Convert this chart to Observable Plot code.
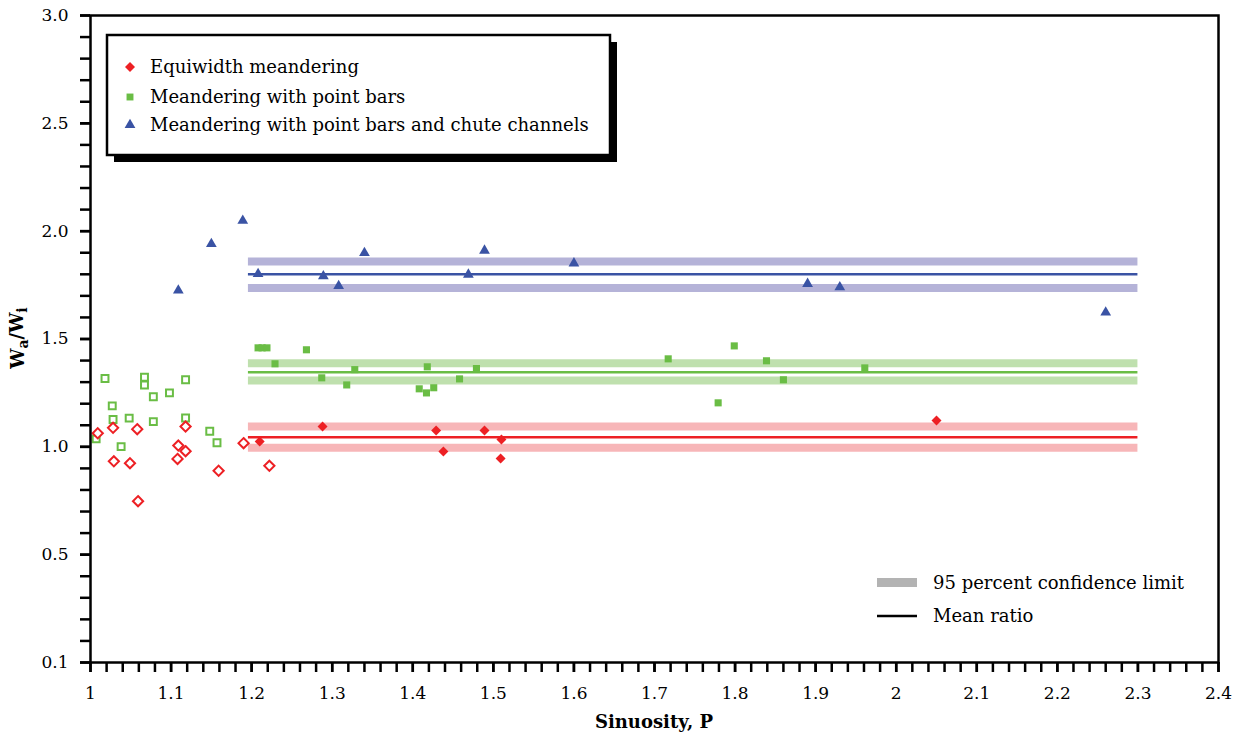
<!DOCTYPE html>
<html><head><meta charset="utf-8">
<script src="https://cdn.jsdelivr.net/npm/d3@7"></script>
<script src="https://cdn.jsdelivr.net/npm/@observablehq/plot@0.6"></script>
<style>
body{margin:0;background:#fff;}
#chart{position:relative;width:1238px;height:738px;}
</style></head><body><div id="chart"></div>
<script>
// ---------- data ----------
const seriesNames = ["Equiwidth meandering", "Meandering with point bars", "Meandering with point bars and chute channels"];
const seriesColors = ["#ed2024", "#6abd45", "#3a53a4"];
const bandColors = ["#f7b6b8", "#bfe0ae", "#b5b3d8"];
const legendNames = ["95 percent confidence limit", "Mean ratio"];

// open symbols (sinuosity < ~1.22)
const equiwidthOpen = [
  [1.009,1.063],[1.028,1.088],[1.058,1.082],[1.118,1.094],[1.109,1.006],[1.118,0.980],
  [1.108,0.944],[1.029,0.933],[1.049,0.924],[1.059,0.748],[1.159,0.889],[1.190,1.017],[1.222,0.912]
];
const pointBarsOpen = [
  [1.018,1.317],[1.067,1.323],[1.067,1.287],[1.118,1.311],[1.078,1.232],[1.098,1.250],
  [1.027,1.190],[1.028,1.127],[1.048,1.133],[1.078,1.117],[1.118,1.134],[1.007,1.037],
  [1.038,1.001],[1.148,1.072],[1.157,1.019]
];
// filled symbols
const equiwidthFilled = [
  [1.210,1.025],[1.288,1.094],[1.429,1.076],[1.438,0.978],[1.489,1.076],[1.510,1.034],[1.509,0.946],[2.050,1.122]
];
const pointBarsFilled = [
  [1.208,1.459],[1.213,1.459],[1.219,1.459],[1.229,1.385],[1.268,1.450],[1.287,1.320],[1.318,1.287],
  [1.328,1.358],[1.418,1.371],[1.408,1.269],[1.417,1.250],[1.426,1.274],[1.458,1.315],[1.479,1.363],
  [1.717,1.408],[1.799,1.468],[1.779,1.204],[1.839,1.399],[1.860,1.311],[1.961,1.366]
];
const chuteFilled = [
  [1.189,2.049],[1.150,1.941],[1.109,1.725],[1.208,1.802],[1.289,1.791],[1.308,1.746],[1.340,1.899],
  [1.469,1.799],[1.489,1.910],[1.600,1.851],[1.890,1.756],[1.930,1.740],[2.260,1.623]
];

const meanRatio = [1.045, 1.346, 1.800];
const upperLimit = [1.094, 1.388, 1.859];
const lowerLimit = [0.996, 1.307, 1.736];
const limitRange = [1.196, 2.3];

const xTickLabels = [1,1.1,1.2,1.3,1.4,1.5,1.6,1.7,1.8,1.9,2,2.1,2.2,2.3,2.4];
const xMinorTicks = d3.range(0, 71).map(i => +(1 + i * 0.02).toFixed(2));
const yTickValues = [0, 0.5, 1.0, 1.5, 2.0, 2.5, 3.0];
const yTickLabels = ["0.1", "0.5", "1.0", "1.5", "2.0", "2.5", "3.0"];
const yMinorTicks = d3.range(0, 31).map(i => +(i * 0.1).toFixed(1));

// ---------- marks ----------
const bandMarks = [];
for (let i = 0; i < 3; i++) {
  bandMarks.push(Plot.ruleY([upperLimit[i], lowerLimit[i]], {x1: limitRange[0], x2: limitRange[1], stroke: bandColors[i], strokeWidth: 8}));
  bandMarks.push(Plot.ruleY([meanRatio[i]], {x1: limitRange[0], x2: limitRange[1], stroke: seriesColors[i], strokeWidth: 2.5}));
}
const px = d => d[0], py = d => d[1];

const plot = Plot.plot({
  width: 1238, height: 738,
  marginLeft: 90, marginRight: 20, marginTop: 15, marginBottom: 76,
  style: {fontFamily: "DejaVu Serif", fontSize: "17px", color: "black", background: "white", overflow: "visible"},
  x: {domain: [1, 2.4]},
  y: {domain: [0, 3]},
  marks: [
    ...bandMarks,
    Plot.dot(pointBarsOpen, {x: px, y: py, symbol: "square", r: 3.9, stroke: seriesColors[1], fill: "white", strokeWidth: 2}),
    Plot.dot(equiwidthOpen, {x: px, y: py, symbol: "diamond2", r: 4.6, stroke: seriesColors[0], fill: "white", strokeWidth: 2}),
    Plot.dot(pointBarsFilled, {x: px, y: py, symbol: "square", r: 4.0, fill: seriesColors[1]}),
    Plot.dot(equiwidthFilled, {x: px, y: py, symbol: "diamond2", r: 4.5, fill: seriesColors[0]}),
    Plot.dot(chuteFilled, {x: px, y: py, symbol: "triangle", r: 4.0, fill: seriesColors[2]}),
    Plot.axisX({ticks: xMinorTicks, tickSize: 10, tickFormat: () => "", strokeWidth: 2.5, label: null}),
    Plot.axisX({ticks: xTickLabels, tickSize: 10, tickPadding: 14, tickFormat: d => String(d), strokeWidth: 2.5, label: null}),
    Plot.axisY({ticks: yMinorTicks, tickSize: 10, tickFormat: () => "", strokeWidth: 2.5, label: null}),
    Plot.axisY({ticks: yTickValues, tickSize: 10, tickPadding: 12, tickFormat: d => yTickLabels[yTickValues.indexOf(d)], strokeWidth: 2.5, label: null}),
    Plot.frame({stroke: "black", strokeWidth: 2.5})
  ]
});
document.getElementById("chart").appendChild(plot);

// ---------- labels & legends ----------
const svg = d3.select(plot);
const font = "DejaVu Serif";

// y label W_a/W_i
const yl = svg.append("text")
  .attr("transform", "translate(24,338) rotate(-90)")
  .attr("text-anchor", "middle")
  .attr("font-family", font).attr("font-weight", "bold").attr("font-size", 18).attr("fill", "black");
yl.append("tspan").text("W");
yl.append("tspan").attr("dy", "0.3em").attr("font-size", 14).text("a");
yl.append("tspan").attr("dy", "-0.3em").text("/W");
yl.append("tspan").attr("dy", "0.3em").attr("font-size", 14).text("i");

svg.append("text").attr("x", 654).attr("y", 728).attr("text-anchor", "middle")
  .attr("font-family", font).attr("font-weight", "bold").attr("font-size", 18).attr("fill", "black")
  .text("Sinuosity, P");

// top-left legend
const lg = svg.append("g").attr("text-anchor", "start");
lg.append("rect").attr("x", 114).attr("y", 42).attr("width", 503).attr("height", 120).attr("fill", "black");
lg.append("rect").attr("x", 107).attr("y", 35).attr("width", 503).attr("height", 120)
  .attr("fill", "white").attr("stroke", "black").attr("stroke-width", 2.5);
const legendSymbols = [d3.symbolDiamond2, d3.symbolSquare, d3.symbolTriangle];
const legendR = [4.5, 3.9, 4.0];
const rowsY = [67, 97, 125];
for (let i = 0; i < 3; i++) {
  lg.append("path").attr("transform", `translate(130,${rowsY[i]})`)
    .attr("d", d3.symbol(legendSymbols[i], Math.PI * legendR[i] * legendR[i])())
    .attr("fill", seriesColors[i]);
  lg.append("text").attr("x", 150).attr("y", rowsY[i]).attr("dy", "0.35em").attr("text-anchor", "start")
    .attr("font-family", font).attr("font-size", 18).attr("fill", "black").text(seriesNames[i]);
}

// bottom-right legend
const lg2 = svg.append("g").attr("text-anchor", "start");
lg2.append("rect").attr("x", 877).attr("y", 578).attr("width", 40).attr("height", 9).attr("fill", "#b3b3b3");
lg2.append("text").attr("x", 933).attr("y", 583).attr("dy", "0.35em").attr("text-anchor", "start")
  .attr("font-family", font).attr("font-size", 18).attr("fill", "black").text(legendNames[0]);
lg2.append("line").attr("x1", 877).attr("x2", 917).attr("y1", 616).attr("y2", 616)
  .attr("stroke", "black").attr("stroke-width", 2.5);
lg2.append("text").attr("x", 933).attr("y", 616).attr("dy", "0.35em").attr("text-anchor", "start")
  .attr("font-family", font).attr("font-size", 18).attr("fill", "black").text(legendNames[1]);
</script>
</body></html>
